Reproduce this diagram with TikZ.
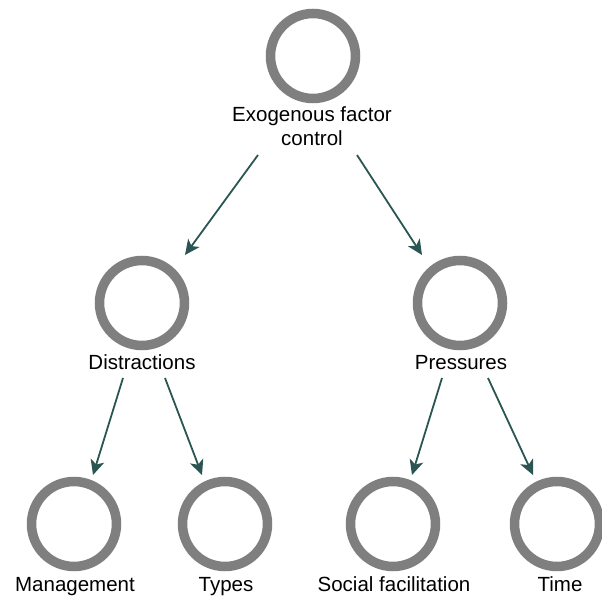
\documentclass[tikz,border=0pt]{standalone}
\usepackage{fontspec}
\setmainfont{Liberation Sans}
\usetikzlibrary{arrows.meta,calc}
\definecolor{ringgray}{HTML}{7F7F7F}
\definecolor{linkteal}{HTML}{2B5552}
\tikzset{
  x=1pt, y=1pt,
  ring/.style={circle, draw=ringgray, line width=9.5pt, minimum size=85pt, inner sep=0pt},
  label text/.style={font=\fontsize{20.5}{24}\selectfont, inner sep=0pt, align=center, text=black},
  link/.style={draw=linkteal, line width=1.8pt, -{Stealth[length=15pt, width=14pt, inset=4pt]}}
}
\begin{document}
\begin{tikzpicture}
  \useasboundingbox (0,0) rectangle (602,597);

  % circles
  \node[ring] (top) at (313,541) {};
  \node[ring] (dis) at (142,294) {};
  \node[ring] (pre) at (460,294) {};
  \node[ring] (man) at (74,73) {};
  \node[ring] (typ) at (225,73) {};
  \node[ring] (soc) at (393,73) {};
  \node[ring] (tim) at (557,73) {};

  % captions (base anchor of the two-line caption is its last line)
  \node[label text, anchor=base] (topl) at (312,451) {Exogenous factor\\control};
  \node[label text, anchor=base] (disl) at (142,227) {Distractions};
  \node[label text, anchor=base] (prel) at (461,227) {Pressures};
  \node[label text, anchor=base] (manl) at (75,6) {Management};
  \node[label text, anchor=base] (typl) at (226,6) {Types};
  \node[label text, anchor=base] (socl) at (394,6) {Social facilitation};
  \node[label text, anchor=base] (timl) at (560,6) {Time};

  % links
  \draw[link] ($(top)+(-55,-99)$) -- ($(dis)+(43,48)$);
  \draw[link] ($(top)+(44,-99)$) -- ($(pre)+(-38,48)$);
  \draw[link] ($(dis)+(-19,-75)$) -- ($(man)+(19,49)$);
  \draw[link] ($(dis)+(23,-75)$) -- ($(typ)+(-23,49)$);
  \draw[link] ($(pre)+(-18,-75)$) -- ($(soc)+(19,49)$);
  \draw[link] ($(pre)+(28,-75)$) -- ($(tim)+(-24,49)$);
\end{tikzpicture}
\end{document}
